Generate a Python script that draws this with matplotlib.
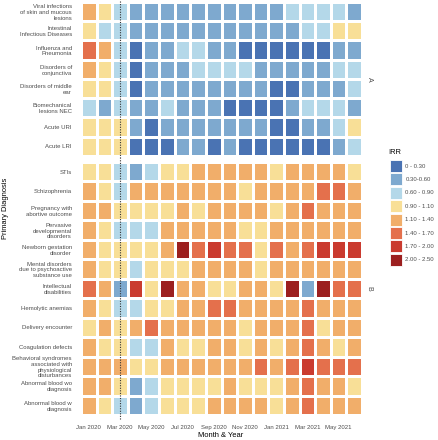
import numpy as np
import matplotlib.pyplot as plt
import matplotlib.colors as mcolors
from matplotlib.patches import Rectangle

plt.rcParams['font.family'] = ['Liberation Sans', 'DejaVu Sans']

# months shown on the x axis (Jan 2020 .. Jun 2021)
months = ['Jan 2020', 'Feb 2020', 'Mar 2020', 'Apr 2020', 'May 2020', 'Jun 2020',
          'Jul 2020', 'Aug 2020', 'Sep 2020', 'Oct 2020', 'Nov 2020', 'Dec 2020',
          'Jan 2021', 'Feb 2021', 'Mar 2021', 'Apr 2021', 'May 2021', 'Jun 2021']
tick_months = ['Jan 2020', 'Mar 2020', 'May 2020', 'Jul 2020', 'Sep 2020',
               'Nov 2020', 'Jan 2021', 'Mar 2021', 'May 2021']
covid_start = 'Mar 2020'

# IRR bins and colours
bin_edges = [0, 0.30, 0.60, 0.90, 1.10, 1.40, 1.70, 2.00, 2.50]
bin_labels = ['0 - 0.30', '0.30-0.60', '0.60 - 0.90', '0.90 - 1.10',
              '1.10 - 1.40', '1.40 - 1.70', '1.70 - 2.00', '2.00 - 2.50']
bin_colors = ['#4A73B3', '#7EA9CF', '#B4D8E9', '#F8DF97',
              '#F1AE6A', '#E4704C', '#CA3B2F', '#9C1F1F']

# panel A
diag_a = ['Viral infections\nof skin and mucous\nlesions',
          'Intestinal\nInfectious Diseases',
          'Influenza and\nPneumonia',
          'Disorders of\nconjunctiva',
          'Disorders of middle\near',
          'Biomechanical\nlesions NEC',
          'Acute URI',
          'Acute LRI']
irr_a = [
    [1.25, 1.0, 0.75, 0.45, 0.45, 0.45, 0.45, 0.45, 0.45, 0.45, 0.45, 0.45, 0.45, 0.75, 0.75, 0.75, 0.75, 0.45],
    [1.0, 0.75, 0.75, 0.45, 0.45, 0.45, 0.45, 0.45, 0.45, 0.45, 0.45, 0.45, 0.45, 0.45, 0.75, 0.75, 1.0, 1.0],
    [1.55, 1.25, 0.75, 0.2, 0.45, 0.45, 0.75, 0.75, 0.45, 0.45, 0.2, 0.2, 0.2, 0.2, 0.2, 0.2, 0.45, 0.45],
    [1.25, 1.0, 0.75, 0.2, 0.45, 0.45, 0.45, 0.75, 0.75, 0.75, 0.75, 0.45, 0.45, 0.45, 0.45, 0.45, 0.75, 0.75],
    [1.0, 1.0, 0.75, 0.2, 0.45, 0.45, 0.45, 0.45, 0.45, 0.45, 0.45, 0.45, 0.2, 0.2, 0.45, 0.45, 0.45, 0.75],
    [0.75, 0.45, 0.75, 0.45, 0.45, 0.75, 0.45, 0.45, 0.45, 0.2, 0.2, 0.2, 0.2, 0.45, 0.75, 0.75, 0.75, 0.45],
    [1.0, 1.0, 1.0, 0.45, 0.2, 0.45, 0.45, 0.45, 0.45, 0.45, 0.45, 0.45, 0.2, 0.2, 0.45, 0.45, 0.75, 1.0],
    [1.0, 1.0, 1.0, 0.2, 0.2, 0.2, 0.45, 0.45, 0.2, 0.45, 0.2, 0.2, 0.2, 0.2, 0.2, 0.2, 0.45, 0.75],
]

# panel B
diag_b = ['STIs',
          'Schizophrenia',
          'Pregnancy with\nabortive outcome',
          'Pervasive\ndevelopmental\ndisorders',
          'Newborn gestation\ndisorder',
          'Mental disorders\ndue to psychoactive\nsubstance use',
          'Intellectual\ndisabilities',
          'Hemolytic anemias',
          'Delivery encounter',
          'Coagulation defects',
          'Behavioral syndromes\nassociated with\nphysiological\ndisturbances',
          'Abnormal blood wo\ndiagnosis',
          'Abnormal blood w\ndiagnosis']
irr_b = [
    [1.0, 1.0, 0.75, 0.45, 0.75, 1.0, 1.0, 1.25, 1.25, 1.25, 1.25, 1.25, 1.0, 1.25, 1.25, 1.25, 1.25, 1.0],
    [1.25, 1.0, 0.75, 1.25, 1.25, 1.25, 1.25, 1.25, 1.25, 1.25, 1.0, 1.25, 1.25, 1.25, 1.25, 1.55, 1.55, 1.25],
    [1.25, 1.25, 1.0, 1.0, 1.0, 1.0, 1.25, 1.0, 1.25, 1.25, 1.25, 1.25, 1.0, 1.25, 1.55, 1.25, 1.25, 1.25],
    [1.25, 1.0, 0.75, 0.75, 0.75, 1.25, 1.25, 1.25, 1.25, 1.25, 1.0, 1.0, 1.25, 1.25, 1.25, 1.25, 1.25, 1.25],
    [1.25, 1.0, 1.0, 1.0, 1.0, 1.25, 2.2, 1.55, 1.85, 1.55, 1.55, 1.0, 1.55, 1.25, 1.55, 1.85, 1.85, 1.85],
    [1.25, 1.0, 1.0, 0.75, 1.0, 1.0, 1.0, 1.25, 1.25, 1.25, 1.25, 1.0, 1.25, 1.25, 1.25, 1.25, 1.25, 1.25],
    [1.55, 1.25, 0.45, 1.85, 1.0, 2.2, 1.25, 1.25, 1.0, 1.0, 1.25, 1.25, 1.0, 2.2, 0.45, 2.2, 1.55, 1.55],
    [1.25, 1.0, 0.75, 0.75, 1.0, 1.0, 1.25, 1.25, 1.55, 1.55, 1.25, 1.25, 1.25, 1.25, 1.55, 1.25, 1.25, 1.25],
    [1.0, 1.25, 1.0, 1.25, 1.55, 1.25, 1.25, 1.25, 1.25, 1.25, 1.0, 1.25, 1.25, 1.25, 1.55, 1.0, 1.25, 1.25],
    [1.25, 1.0, 1.0, 0.75, 0.75, 1.25, 1.0, 1.0, 1.25, 1.25, 1.0, 1.25, 1.0, 1.25, 1.55, 1.25, 1.0, 1.25],
    [1.25, 1.25, 1.25, 1.0, 1.0, 1.25, 1.25, 1.25, 1.25, 1.25, 1.25, 1.55, 1.25, 1.55, 1.85, 1.55, 1.55, 1.55],
    [1.25, 1.25, 1.0, 0.45, 0.75, 1.0, 1.0, 1.0, 1.0, 1.25, 1.0, 1.0, 1.0, 1.25, 1.55, 1.25, 1.25, 1.0],
    [1.25, 1.0, 0.75, 0.45, 0.75, 1.0, 1.0, 1.0, 1.25, 1.25, 1.25, 1.25, 1.0, 1.25, 1.55, 1.25, 1.25, 1.25],
]

cmap = mcolors.ListedColormap(bin_colors)
norm = mcolors.BoundaryNorm(bin_edges, cmap.N)

W, H = 439, 440
fig = plt.figure(figsize=(W / 100, H / 100), dpi=100)

def px_axes(x0, y0, x1, y1):
    # pixel box (top-left origin) -> figure axes
    return fig.add_axes([x0 / W, 1 - y1 / H, (x1 - x0) / W, (y1 - y0) / H])

ax_a = px_axes(81, 2, 362, 156)
ax_b = px_axes(81, 162, 362, 415)

grey = '#4D4D4D'
tick_fs = 4.3
vline_x = months.index(covid_start)

for ax, labels, vals, strip in [(ax_a, diag_a, irr_a, 'A'), (ax_b, diag_b, irr_b, 'B')]:
    data = np.array(vals)
    ax.pcolormesh(np.arange(len(months) + 1) - 0.5, np.arange(len(labels) + 1) - 0.5,
                  data, cmap=cmap, norm=norm, edgecolors='white', linewidth=0.8)
    ax.set_xlim(-0.5, len(months) - 0.5)
    ax.set_ylim(len(labels) - 0.5, -0.5)
    ax.set_yticks(np.arange(len(labels)))
    ax.set_yticklabels(labels, fontsize=tick_fs, color=grey, linespacing=1.2)
    ax.axvline(vline_x, color='#333333', linestyle=(0, (1, 1.3)), linewidth=0.8,
               ymin=-0.015, ymax=1.015, clip_on=False)
    ax.tick_params(length=0, pad=6.5)
    for s in ax.spines.values():
        s.set_visible(False)
    ax.text(1.025, 0.5, strip, transform=ax.transAxes, rotation=-90,
            ha='center', va='center', fontsize=5, color=grey)

ax_a.set_xticks([])
ax_b.set_xticks([months.index(m) for m in tick_months])
ax_b.set_xticklabels(tick_months, fontsize=tick_fs, color=grey)
ax_b.tick_params(axis='x', pad=7)

fig.text(221 / W, 1 - 435.5 / H, 'Month & Year', ha='center', va='center', fontsize=5.4)
fig.text(5.5 / W, 1 - 208 / H, 'Primary Diagnosis', ha='center', va='center',
         rotation=90, fontsize=5.4)

# legend (keys drawn as tiles, like ggplot's fill legend)
fig.text(388 / W, 1 - 152.5 / H, 'IRR', ha='left', va='center', fontsize=5.4)
key_x, key_y0, key_size, key_step = 390, 160, 12, 13.4
for i, (c, lab) in enumerate(zip(bin_colors, bin_labels)):
    top = key_y0 + i * key_step
    fig.add_artist(Rectangle((key_x / W, 1 - (top + key_size) / H), key_size / W, key_size / H,
                             facecolor=c, edgecolor='white', linewidth=0.6,
                             transform=fig.transFigure))
    fig.text((key_x + key_size + 3.5) / W, 1 - (top + key_size / 2) / H, lab,
             ha='left', va='center', fontsize=tick_fs, color=grey)

fig.savefig('out.png', dpi=100)
